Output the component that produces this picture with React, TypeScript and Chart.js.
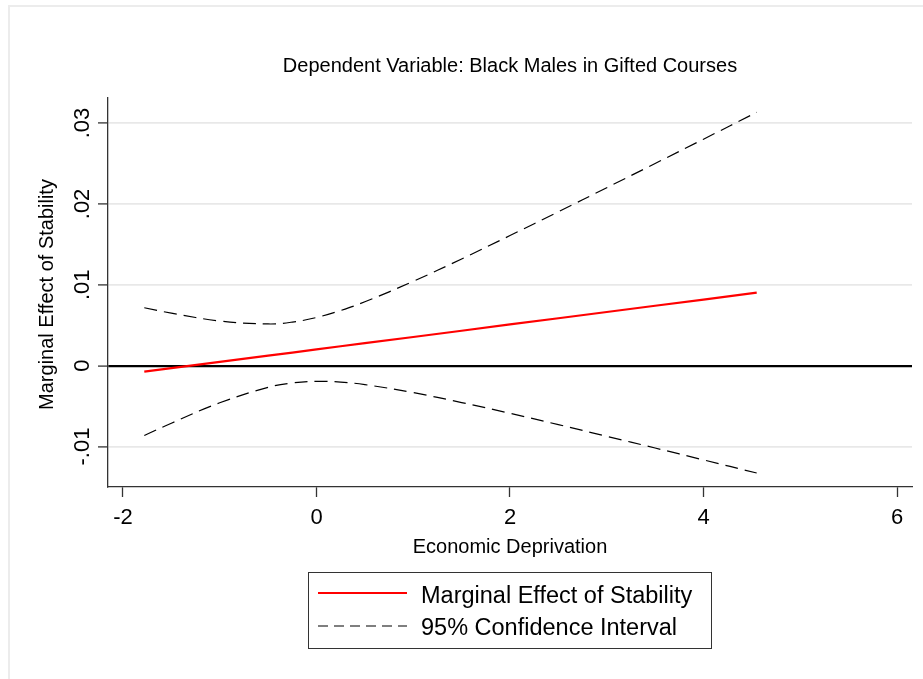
import React, { useEffect, useRef } from "react";
import { Chart, registerables } from "chart.js";

Chart.register(...registerables);

// Economic deprivation values at which the marginal effect was evaluated
const deprivation = [-1.78, -1.5, -1, -0.5, -0.25, 0, 0.25, 0.5, 1, 1.5, 2, 2.5, 3, 3.5, 4, 4.55];
// Marginal effect of stability
const marginalEffect = [
  -0.00074, -0.00031, 0.00047, 0.00124, 0.00162, 0.00201, 0.0024, 0.00278, 0.00355, 0.00432, 0.0051,
  0.00587, 0.00664, 0.00741, 0.00818, 0.00903,
];
// 95% confidence bounds
const upperBound = [
  0.00716, 0.0065, 0.00553, 0.00516, 0.00539, 0.00596, 0.00683, 0.0079, 0.01043, 0.0132, 0.01609,
  0.01903, 0.02201, 0.025, 0.02801, 0.03133,
];
const lowerBound = [
  -0.00864, -0.00711, -0.00459, -0.00268, -0.00214, -0.00194, -0.00203, -0.00234, -0.00333, -0.00456,
  -0.00589, -0.00729, -0.00873, -0.01018, -0.01165, -0.01327,
];

const xTickValues = [-2, 0, 2, 4, 6];
const xTickLabels = ["-2", "0", "2", "4", "6"];
const yTickValues = [-0.01, 0, 0.01, 0.02, 0.03];
const yTickLabels = ["-.01", "0", ".01", ".02", ".03"];

const chartTitle = "Dependent Variable: Black Males in Gifted Courses";
const xAxisTitle = "Economic Deprivation";
const yAxisTitle = "Marginal Effect of Stability";
const legendLabels = ["Marginal Effect of Stability", "95% Confidence Interval"];

const FONT = '"Liberation Sans", Arial, Helvetica, sans-serif';
const RED = "#ff0000";
const PLOT_DASH = [13, 7];
const LEGEND_DASH = [10, 6];

const toPoints = (ys: number[]) => deprivation.map((x, i) => ({ x, y: ys[i] }));

const decorations = {
  id: "decorations",
  beforeDraw(chart: any) {
    const { ctx } = chart;
    ctx.save();
    ctx.fillStyle = "#ffffff";
    ctx.fillRect(0, 0, chart.width, chart.height);
    // light outer frame
    ctx.fillStyle = "#ececec";
    ctx.fillRect(8, 5, chart.width - 8, 2);
    ctx.fillRect(8, 5, 2, chart.height - 5);
    ctx.restore();
  },
  afterDraw(chart: any) {
    const { ctx, chartArea } = chart;
    const xs = chart.scales.x;
    const ys = chart.scales.y;
    const cx = (chartArea.left + chartArea.right) / 2;
    ctx.save();
    ctx.fillStyle = "#000";
    ctx.textBaseline = "alphabetic";
    ctx.textAlign = "center";

    ctx.font = `20px ${FONT}`;
    ctx.fillText(chartTitle, cx, 72);
    ctx.fillText(xAxisTitle, cx, 553);

    ctx.font = `22px ${FONT}`;
    xTickValues.forEach((v, i) => {
      ctx.fillText(xTickLabels[i], xs.getPixelForValue(v), 524);
    });
    yTickValues.forEach((v, i) => {
      ctx.save();
      ctx.translate(89, ys.getPixelForValue(v));
      ctx.rotate(-Math.PI / 2);
      ctx.fillText(yTickLabels[i], 0, 0);
      ctx.restore();
    });

    ctx.font = `20px ${FONT}`;
    ctx.save();
    ctx.translate(53, (chartArea.top + chartArea.bottom) / 2 + 2);
    ctx.rotate(-Math.PI / 2);
    ctx.fillText(yAxisTitle, 0, 0);
    ctx.restore();

    // legend box
    ctx.strokeStyle = "#333";
    ctx.lineWidth = 1;
    ctx.strokeRect(308.5, 572.5, 403, 76);

    ctx.strokeStyle = RED;
    ctx.lineWidth = 2.2;
    ctx.beginPath();
    ctx.moveTo(318, 593);
    ctx.lineTo(407, 593);
    ctx.stroke();

    ctx.strokeStyle = "#000";
    ctx.lineWidth = 1.2;
    ctx.setLineDash(LEGEND_DASH);
    ctx.beginPath();
    ctx.moveTo(318, 626);
    ctx.lineTo(407, 626);
    ctx.stroke();
    ctx.setLineDash([]);

    ctx.font = `23.5px ${FONT}`;
    ctx.textAlign = "left";
    ctx.fillText(legendLabels[0], 421, 603);
    ctx.fillText(legendLabels[1], 421, 635);
    ctx.restore();
  },
};

export default function App() {
  const canvasRef = useRef<HTMLCanvasElement | null>(null);

  useEffect(() => {
    if (!canvasRef.current) return;
    const chart = new Chart(canvasRef.current, {
      type: "line",
      data: {
        datasets: [
          {
            label: legendLabels[1],
            data: toPoints(upperBound),
            borderColor: "#000",
            borderWidth: 1.2,
            borderDash: PLOT_DASH,
            pointRadius: 0,
            tension: 0.4,
            fill: false,
          },
          {
            label: legendLabels[1],
            data: toPoints(lowerBound),
            borderColor: "#000",
            borderWidth: 1.2,
            borderDash: PLOT_DASH,
            pointRadius: 0,
            tension: 0.4,
            fill: false,
          },
          {
            label: legendLabels[0],
            data: toPoints(marginalEffect),
            borderColor: RED,
            borderWidth: 2.2,
            pointRadius: 0,
            tension: 0,
            fill: false,
          },
        ],
      },
      options: {
        animation: false,
        responsive: false,
        devicePixelRatio: 1,
        layout: { padding: { top: 98, left: 0, right: 11, bottom: 0 } },
        plugins: {
          legend: { display: false },
          title: { display: false },
          tooltip: { enabled: false },
        },
        scales: {
          x: {
            type: "linear",
            min: -2.155,
            max: 6.155,
            afterBuildTicks: (scale: any) => {
              scale.ticks = xTickValues.map((value) => ({ value }));
            },
            afterFit: (scale: any) => {
              scale.height = 192;
            },
            ticks: { display: false },
            grid: {
              display: true,
              drawOnChartArea: false,
              drawTicks: true,
              tickLength: 10,
              tickColor: "#333",
              tickWidth: 1.3,
            },
            border: { display: true, color: "#333", width: 1.3 },
          },
          y: {
            type: "linear",
            min: -0.015,
            max: 0.0331,
            afterBuildTicks: (scale: any) => {
              scale.ticks = yTickValues.map((value) => ({ value }));
            },
            afterFit: (scale: any) => {
              scale.width = 108;
            },
            ticks: { display: false },
            grid: {
              display: true,
              drawOnChartArea: true,
              drawTicks: true,
              tickLength: 10,
              tickColor: "#333",
              tickWidth: 1.3,
              color: (c: any) => (c.tick && c.tick.value === 0 ? "#000" : "#e8e8e8"),
              lineWidth: (c: any) => (c.tick && c.tick.value === 0 ? 2.2 : 1.8),
            },
            border: { display: true, color: "#333", width: 1.3 },
          },
        },
      },
      plugins: [decorations],
    });
    return () => chart.destroy();
  }, []);

  return (
    <div style={{ position: "absolute", left: 0, top: 0, width: 923, height: 679 }}>
      <canvas ref={canvasRef} width={923} height={679} style={{ display: "block" }} />
    </div>
  );
}
